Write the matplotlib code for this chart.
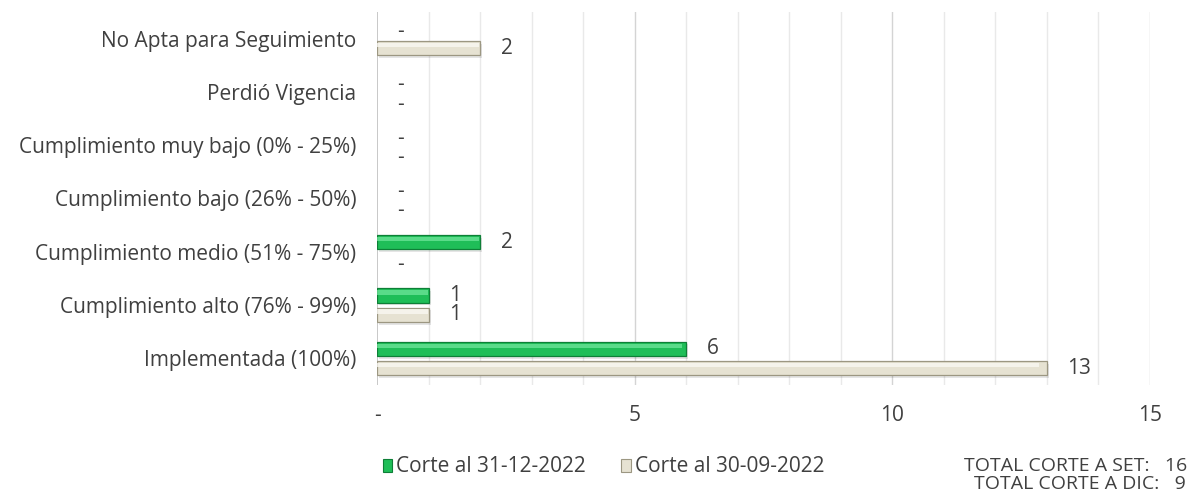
import matplotlib
matplotlib.use("Agg")
import matplotlib.pyplot as plt
from matplotlib.patches import Patch
import numpy as np

plt.rcParams["font.family"] = ["Open Sans", "DejaVu Sans"]

categories = [
    "No Apta para Seguimiento",
    "Perdió Vigencia",
    "Cumplimiento muy bajo (0% - 25%)",
    "Cumplimiento bajo (26% - 50%)",
    "Cumplimiento medio (51% - 75%)",
    "Cumplimiento alto (76% - 99%)",
    "Implementada (100%)",
]
corte_dic = [0, 0, 0, 0, 2, 1, 6]
corte_set = [2, 0, 0, 0, 0, 1, 13]
series_names = ["Corte al 31-12-2022", "Corte al 30-09-2022"]
xtick_vals = [0, 5, 10, 15]
xtick_labels = ["-", "5", "10", "15"]

TEXT = "#404040"
FS = 15
GREEN = ("#1fbe58", "#0e7f37", "#6fe59a")   # face, edge, highlight
BEIGE = ("#e6e2d2", "#9c9782", "#fbfaf4")

fig = plt.figure(figsize=(11.95, 4.95), dpi=100)
ax = fig.add_axes([0.3155, 0.222, 0.6468, 0.754])

y = np.arange(len(categories))
h = 0.27
offsets = [-0.18, 0.18]


def bevel_bars(ax, ypos, vals, colors):
    face, edge, light = colors
    vals = np.asarray(vals, dtype=float)
    keep = vals > 0
    ypos, vals = ypos[keep], vals[keep]
    # soft drop shadow
    ax.barh(ypos + 0.05, vals, height=h, left=0.04, color="#000000",
            alpha=0.10, linewidth=0, zorder=2)
    ax.barh(ypos, vals, height=h, color=face, edgecolor=edge,
            linewidth=0.9, zorder=3)
    # light strip along the top edge
    ax.barh(ypos - h * 0.22, vals * (1 - 0.012), height=h * 0.3,
            left=0, color=light, linewidth=0, alpha=0.75, zorder=4)


for vals, off, cols in [(corte_dic, offsets[0], GREEN),
                        (corte_set, offsets[1], BEIGE)]:
    yp = y + off
    bevel_bars(ax, yp, vals, cols)
    for yi, v in zip(yp, vals):
        if v == 0:
            ax.text(0.45, yi + 0.05, "-", ha="center", va="center",
                    fontsize=FS, color=TEXT, zorder=5)
        else:
            ax.text(v + 0.4, yi, f"{v}", ha="left", va="center",
                    fontsize=FS, color=TEXT, zorder=5)

ax.set_xlim(0, 15)
ax.set_ylim(len(categories) - 0.5, -0.5)

# gridlines: every unit, stronger on the labelled ticks
for gx in range(1, 16):
    ax.axvline(gx, color="#d4d4d4" if gx % 5 == 0 else "#e9e9e9",
               linewidth=1.0, zorder=1)
ax.axvline(0, color="#bfbfbf", linewidth=1.2, zorder=1)

ax.set_yticks(y)
ax.set_yticklabels(categories, fontsize=FS, color=TEXT)
ax.set_xticks(xtick_vals)
ax.set_xticklabels(xtick_labels, fontsize=FS, color=TEXT)
ax.tick_params(axis="both", length=0)
ax.tick_params(axis="x", pad=14)
ax.tick_params(axis="y", pad=15)
for s in ax.spines.values():
    s.set_visible(False)

handles = [
    Patch(facecolor=GREEN[0], edgecolor=GREEN[1], linewidth=0.8),
    Patch(facecolor=BEIGE[0], edgecolor=BEIGE[1], linewidth=0.8),
]
fig.legend(handles, series_names, loc="center left",
           bbox_to_anchor=(364 / 1195, 1 - 467 / 495), ncol=2,
           frameon=False, fontsize=FS, handlelength=0.45, handleheight=0.6,
           handletextpad=0.2, columnspacing=1.7, labelcolor=TEXT)

total_set = sum(corte_set)
total_dic = sum(corte_dic)
fig.text(1187 / 1195, 1 - 466 / 495, f"TOTAL CORTE A SET:   {total_set}",
         ha="right", va="center", fontsize=14, color=TEXT)
fig.text(1186 / 1195, 1 - 484 / 495, f"TOTAL CORTE A DIC:   {total_dic}",
         ha="right", va="center", fontsize=14, color=TEXT)

fig.savefig("out.png", dpi=100)
